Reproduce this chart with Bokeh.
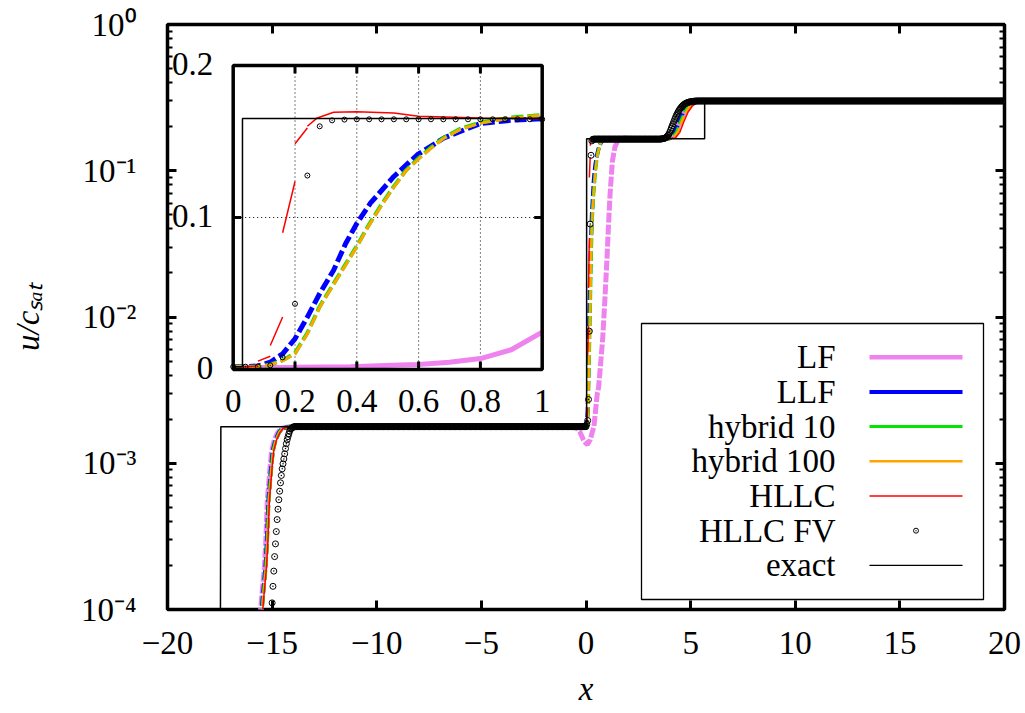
import math
from bokeh.plotting import figure
from bokeh.models import (ColumnDataSource, LabelSet, Range1d, LinearScale,
                          FixedTicker, LinearAxis, LogAxis, CustomJSTickFormatter)
from bokeh.core.properties import value
from bokeh.embed import file_html
from bokeh.resources import INLINE

NAN = float("nan")

# ---------------- ticks / labels ----------------
X_TICKS = [-20, -15, -10, -5, 0, 5, 10, 15, 20]
Y_DECADES = [1e-4, 1e-3, 1e-2, 1e-1, 1.0]
Y_EXPONENTS = ["\u22124", "\u22123", "\u22122", "\u22121", "0"]
Y_MINOR_MANTISSAS = [2, 3, 4, 5, 6, 7, 8, 9]
INSET_X_TICKS = [0, 0.2, 0.4, 0.6, 0.8, 1.0]
INSET_X_LABELS = ["0", "0.2", "0.4", "0.6", "0.8", "1"]
INSET_Y_TICKS = [0, 0.1, 0.2]
INSET_Y_LABELS = ["0", "0.1", "0.2"]
SERIES_NAMES = ["LF", "LLF", "hybrid 10", "hybrid 100", "HLLC", "HLLC FV", "exact"]
X_TITLE = "x"
Y_TITLE = "u/c\u209b\u2090\u209c"   # u/c_sat

# ---------------- series ----------------
lf_x = [-20.0, -15.62, -15.54, -15.47, -15.37, -15.30, -15.23, -15.10, -15.02, -14.90, -14.73, -14.58, -14.18,
        -1.00, -0.50, -0.30, -0.10, 0.00, 0.07, 0.20, 0.38, 0.54, 0.60, 0.70, 0.80, 0.90, 1.00, 1.07, 1.15,
        1.26, 1.38, 1.50, 1.70, 1.89, 2.30, 3.00, 3.80, 4.00, 4.20, 4.40, 4.60, 4.80, 5.00, 5.20, 5.45, 20.0]
lf_y = [1e-6, 6e-5, 1.03e-4, 1.35e-4, 1.94e-4, 2.96e-4, 5.56e-4, 9.35e-4, 1.22e-3, 1.43e-3, 1.62e-3, 1.73e-3, 1.78e-3,
        1.78e-3, 1.76e-3, 1.65e-3, 1.42e-3, 1.37e-3, 1.34e-3, 1.45e-3, 1.79e-3, 3.0e-3, 3.3e-3, 4.8e-3, 7.2e-3,
        0.0130, 0.0246, 0.041, 0.069, 0.116, 0.145, 0.159, 0.166, 0.1675, 0.1660, 0.1650, 0.1660, 0.1700, 0.1800,
        0.2000, 0.2320, 0.2620, 0.2850, 0.2960, 0.3000, 0.3000]

llf_x = [-20.0, -15.60, -15.49, -15.42, -15.32, -15.25, -15.18, -15.05, -14.97, -14.85, -14.68, -14.53, -14.13,
         0.00, 0.04, 0.08, 0.12, 0.16, 0.20, 0.24, 0.28, 0.325, 0.364, 0.40, 0.444, 0.52, 0.596, 0.682, 0.798,
         0.90, 1.00, 1.50, 3.90, 4.05, 4.25, 4.45, 4.65, 4.85, 5.05, 5.25, 5.65, 20.0]
llf_y = [1e-6, 6e-5, 1.03e-4, 1.35e-4, 1.94e-4, 2.96e-4, 5.56e-4, 9.35e-4, 1.22e-3, 1.43e-3, 1.62e-3, 1.73e-3, 1.78e-3,
         1.78e-3, 1.85e-3, 2.3e-3, 4.8e-3, 0.0103, 0.0202, 0.0345, 0.0500, 0.0653, 0.0829, 0.0961, 0.1094, 0.1270,
         0.1413, 0.1523, 0.1617, 0.1640, 0.1650, 0.1652, 0.1650, 0.1680, 0.1830, 0.2170, 0.2520, 0.2770, 0.2905,
         0.2965, 0.3000, 0.3000]

hyb10_x = [-20.0, -15.58, -15.47, -15.40, -15.30, -15.23, -15.16, -15.03, -14.95, -14.83, -14.66, -14.51, -14.11,
           0.00, 0.04, 0.08, 0.12, 0.16, 0.20, 0.24, 0.28, 0.32, 0.36, 0.40, 0.44, 0.48, 0.52, 0.56, 0.60, 0.64,
           0.68, 0.735, 0.80, 0.90, 1.00, 1.30, 1.80, 3.90, 4.13, 4.33, 4.53, 4.73, 4.93, 5.13, 5.33, 5.70, 20.0]
hyb10_y = [1e-6, 6e-5, 1.03e-4, 1.35e-4, 1.94e-4, 2.96e-4, 5.56e-4, 9.35e-4, 1.22e-3, 1.43e-3, 1.62e-3, 1.73e-3, 1.78e-3,
           1.78e-3, 1.80e-3, 2.0e-3, 3.2e-3, 6.0e-3, 0.0108, 0.0240, 0.0415, 0.0548, 0.0680, 0.0812, 0.0955, 0.1085,
           0.1205, 0.1312, 0.1390, 0.1460, 0.1523, 0.1583, 0.1625, 0.1658, 0.1675, 0.1665, 0.1652, 0.1650, 0.1680,
           0.1830, 0.2170, 0.2520, 0.2770, 0.2905, 0.2965, 0.3000, 0.3000]

hyb100_x = [-20.0, -15.57, -15.46, -15.39, -15.29, -15.22, -15.15, -15.02, -14.94, -14.82, -14.65, -14.50, -14.10,
            0.00, 0.04, 0.08, 0.12, 0.16, 0.20, 0.24, 0.28, 0.32, 0.36, 0.40, 0.44, 0.48, 0.52, 0.56, 0.60, 0.64,
            0.68, 0.735, 0.80, 0.90, 1.00, 1.30, 1.80, 3.90, 4.18, 4.38, 4.58, 4.78, 4.98, 5.18, 5.38, 5.72, 20.0]
hyb100_y = [1e-6, 6e-5, 1.03e-4, 1.35e-4, 1.94e-4, 2.96e-4, 5.56e-4, 9.35e-4, 1.22e-3, 1.43e-3, 1.62e-3, 1.73e-3, 1.78e-3,
            1.78e-3, 1.80e-3, 1.98e-3, 3.1e-3, 5.8e-3, 0.0103, 0.0235, 0.0411, 0.0543, 0.0675, 0.0807, 0.0950, 0.1080,
            0.1200, 0.1308, 0.1385, 0.1455, 0.1520, 0.1580, 0.1622, 0.1655, 0.1672, 0.1663, 0.1651, 0.1650, 0.1680,
            0.1830, 0.2170, 0.2520, 0.2770, 0.2905, 0.2965, 0.3000, 0.3000]

# HLLC (DG): pieces separated by NaN where the cell traces jump
hllc_x = [-20.0, -15.55, -15.44, -15.37, -15.27, -15.20, -15.13, -15.00, -14.92, -14.80, -14.63, -14.48, -14.08,
          0.00, 0.04, 0.08, NAN, 0.08, 0.12, NAN, 0.12, 0.16, NAN, 0.16, 0.20, NAN, 0.20, 0.24, NAN,
          0.24, 0.272, 0.325, 0.40, 0.52, 0.60, 0.80, 1.00, 3.90, 4.28, 4.48, 4.68, 4.88, 5.08, 5.28, 5.48, 5.75, 20.0]
hllc_y = [1e-6, 6e-5, 1.03e-4, 1.35e-4, 1.94e-4, 2.96e-4, 5.56e-4, 9.35e-4, 1.22e-3, 1.43e-3, 1.62e-3, 1.73e-3, 1.78e-3,
          1.78e-3, 1.85e-3, 2.4e-3, NAN, 5.5e-3, 8.7e-3, NAN, 0.0158, 0.0345, NAN, 0.0900, 0.1237, NAN, 0.1485, 0.1589, NAN,
          0.1600, 0.1655, 0.1692, 0.1696, 0.1688, 0.1666, 0.1655, 0.1650, 0.1650, 0.1680, 0.1830, 0.2170, 0.2520,
          0.2770, 0.2905, 0.2965, 0.3000, 0.3000]

exact_x = [-20.0, -17.50, -17.45, 0.00, 0.03, 0.03, 1.00, 5.67, 5.67, 20.0]
exact_y = [1e-6, 1e-6, 1.78e-3, 1.78e-3, 1.78e-3, 0.1652, 0.1652, 0.1652, 0.30, 0.30]

# HLLC FV: one value per cell, cell spacing 0.04
FV_DX = 0.04
fv_front_x0 = -15.12
fv_front = [5.0e-5, 6.6e-5, 8.6e-5, 1.11e-4, 1.44e-4, 1.83e-4, 2.30e-4, 2.81e-4, 3.41e-4, 4.12e-4, 4.85e-4,
            5.63e-4, 6.44e-4, 7.35e-4, 8.25e-4, 9.16e-4, 9.91e-4, 1.07e-3, 1.16e-3, 1.26e-3, 1.36e-3, 1.45e-3,
            1.52e-3, 1.59e-3, 1.66e-3, 1.71e-3, 1.73e-3, 1.75e-3, 1.76e-3]
fv_left_plateau = (-13.96, 0.00, 1.78e-3)
fv_jump_x0 = 0.04
fv_jump = [1.85e-3, 1.96e-3, 2.73e-3, 8.0e-3, 0.0432, 0.1276, 0.1600, 0.1639, 0.1644]
fv_mid_plateau = (0.40, 3.52, 0.1646)
fv_step_x0 = 3.56
fv_step = [.1647, .1650, .1653, .1657, .1662, .1668, .1680, .1695, .1715, .1745, .1780, .1830, .1890, .1960,
           .2030, .2100, .2170, .2245, .2320, .2390, .2455, .2520, .2580, .2630, .2680, .2725, .2770, .2805,
           .2835, .2860, .2885, .2905, .2920, .2935, .2947, .2957, .2965, .2972, .2978, .2983, .2988, .2992,
           .2995, .2997, .2998, .2999, .3000]
fv_right_plateau = (5.44, 20.0, 0.300)

for a, b in [(lf_x, lf_y), (llf_x, llf_y), (hyb10_x, hyb10_y), (hyb100_x, hyb100_y),
             (hllc_x, hllc_y), (exact_x, exact_y)]:
    assert len(a) == len(b), (len(a), len(b))


def fv_run(x0, vals):
    return [(round(x0 + i * FV_DX, 2), v) for i, v in enumerate(vals)]


def fv_flat(piece):
    x0, x1, v = piece
    n = int(round((x1 - x0) / FV_DX)) + 1
    return [(round(x0 + i * FV_DX, 2), v) for i in range(n)]


fv_pts = (fv_run(fv_front_x0, fv_front) + fv_flat(fv_left_plateau) + fv_run(fv_jump_x0, fv_jump)
          + fv_flat(fv_mid_plateau) + fv_run(fv_step_x0, fv_step) + fv_flat(fv_right_plateau))
fv_x = [p[0] for p in fv_pts]
fv_y = [p[1] for p in fv_pts]

# ---------------- layout (pixels) ----------------
W, H = 1025, 713
FRAME_L, FRAME_R, FRAME_T, FRAME_B = 167, 1004, 24, 609
X_MIN, X_MAX, Y_MIN, Y_MAX = -20.0, 20.0, 1e-4, 1.0
INSET_L, INSET_R, INSET_T, INSET_B = 232.7, 541.7, 65.0, 369.0
IX_MIN, IX_MAX, IY_MIN, IY_MAX = 0.0, 1.0, 0.0, 0.2
FONT = "Liberation Serif"
FS = 33

COLORS = {"LF": "#EE82EE", "LLF": "#0000FF", "hybrid 10": "#00E600", "hybrid 100": "#FFA500",
          "HLLC": "#FF0000", "HLLC FV": "#000000", "exact": "#000000"}
SUP = {"0": "\u2070", "1": "\u00b9", "2": "\u00b2", "3": "\u00b3", "4": "\u2074", "\u2212": "\u207b"}


def px_to_x(px):
    return X_MIN + (px - FRAME_L) / (FRAME_R - FRAME_L) * (X_MAX - X_MIN)


def py_to_y(py):
    l0, l1 = math.log10(Y_MIN), math.log10(Y_MAX)
    return 10 ** (l0 + (FRAME_B - py) / (FRAME_B - FRAME_T) * (l1 - l0))


p = figure(width=W, height=H, x_range=Range1d(X_MIN, X_MAX), y_range=Range1d(Y_MIN, Y_MAX),
           y_axis_type="log", output_backend="svg", toolbar_location=None,
           min_border_left=FRAME_L, min_border_right=W - FRAME_R,
           min_border_top=FRAME_T, min_border_bottom=H - FRAME_B)
p.xgrid.visible = False
p.ygrid.visible = False
p.background_fill_color = "white"
p.border_fill_color = "white"
p.outline_line_color = "black"
p.outline_line_width = 3.5

y_ticker = FixedTicker(ticks=Y_DECADES, minor_ticks=[m * d for d in Y_DECADES[:-1] for m in Y_MINOR_MANTISSAS])
x_ticker = FixedTicker(ticks=X_TICKS)


def style_axis(ax, labels, minor):
    ax.axis_line_color = None
    ax.major_tick_in = 9
    ax.major_tick_out = 0
    ax.major_tick_line_width = 3
    ax.major_tick_line_color = "black"
    if minor:
        ax.minor_tick_in = 5
        ax.minor_tick_out = 0
        ax.minor_tick_line_width = 2
        ax.minor_tick_line_color = "black"
    else:
        ax.minor_tick_line_color = None
    if labels:
        ax.major_label_text_font = FONT
        ax.major_label_text_font_size = f"{FS}px"
        ax.major_label_text_color = "black"
        ax.axis_label_text_font = FONT
        ax.axis_label_text_font_size = f"{FS}px"
        ax.axis_label_text_font_style = "italic"
        ax.axis_label_text_color = "black"
    else:
        ax.formatter = CustomJSTickFormatter(code="return ''")
        ax.major_label_text_font_size = "0px"
        ax.major_label_standoff = 0


bx = p.xaxis[0]
bx.ticker = x_ticker
style_axis(bx, True, False)
bx.major_label_overrides = {t: str(t).replace("-", "\u2212") for t in X_TICKS}
bx.major_label_standoff = 22
bx.axis_label = X_TITLE
bx.axis_label_standoff = 14

ly = p.yaxis[0]
ly.ticker = y_ticker
style_axis(ly, True, True)
ly.major_label_overrides = {d: "10" + "".join(SUP[c] for c in e) for d, e in zip(Y_DECADES, Y_EXPONENTS)}
ly.major_label_standoff = 31
ly.axis_label = Y_TITLE
ly.axis_label_standoff = 32

top_ax = LinearAxis(ticker=x_ticker)
style_axis(top_ax, False, False)
p.add_layout(top_ax, "above")
right_ax = LogAxis(ticker=y_ticker)
style_axis(right_ax, False, True)
p.add_layout(right_ax, "right")

# ---------------- main curves ----------------
main_styles = [
    (lf_x, lf_y, "LF", 5, "10 2"),
    (llf_x, llf_y, "LLF", 4, "10 3"),
    (hyb10_x, hyb10_y, "hybrid 10", 3.5, "10 3"),
    (hyb100_x, hyb100_y, "hybrid 100", 2.5, "10 3"),
    (hllc_x, hllc_y, "HLLC", 1.5, "solid"),
]
for xs, ys, name, w, dash in main_styles:
    p.line(xs, ys, line_color=COLORS[name], line_width=w, line_dash=dash)
p.scatter(fv_x, fv_y, marker="circle_dot", size=6, line_color="black", fill_color=None, line_width=1)
p.line(exact_x, exact_y, line_color="black", line_width=1.5)

# ---------------- legend ----------------
LEG_L, LEG_R, LEG_T, LEG_B = 641, 983, 323, 599
ROW0, ROW_STEP = 356.7, 34.7
SAMPLE_L, SAMPLE_R, TEXT_R = 869, 962, 835
p.quad(left=[px_to_x(LEG_L)], right=[px_to_x(LEG_R)], top=[py_to_y(LEG_T)], bottom=[py_to_y(LEG_B)],
       fill_color="white", line_color="black", line_width=1.3)
legend_widths = {"LF": 4.5, "LLF": 4, "hybrid 10": 3, "hybrid 100": 2.5, "HLLC": 1.5, "exact": 1.3}
row_y = [py_to_y(ROW0 + i * ROW_STEP) for i in range(len(SERIES_NAMES))]
for name, yy in zip(SERIES_NAMES, row_y):
    if name == "HLLC FV":
        p.scatter([px_to_x((SAMPLE_L + SAMPLE_R) / 2)], [yy], marker="circle_dot", size=5,
                  line_color="black", fill_color=None, line_width=1)
    else:
        p.line([px_to_x(SAMPLE_L), px_to_x(SAMPLE_R)], [yy, yy], line_color=COLORS[name],
               line_width=legend_widths[name])
leg_src = ColumnDataSource(dict(x=[px_to_x(TEXT_R)] * len(SERIES_NAMES), y=row_y, t=SERIES_NAMES))
p.add_layout(LabelSet(x="x", y="y", text="t", source=leg_src, text_align="right", text_baseline="middle",
                      text_font=value(FONT), text_font_size=value(f"{FS}px"), text_color="black"))

# ---------------- inset (extra linear ranges) ----------------
sx = (INSET_R - INSET_L) / (IX_MAX - IX_MIN)
sy = (INSET_B - INSET_T) / (IY_MAX - IY_MIN)
p.extra_x_ranges = {"ix": Range1d(IX_MIN - (INSET_L - FRAME_L) / sx, IX_MAX + (FRAME_R - INSET_R) / sx)}
p.extra_y_ranges = {"iy": Range1d(IY_MIN - (FRAME_B - INSET_B) / sy, IY_MAX + (INSET_T - FRAME_T) / sy)}
p.extra_x_scales = {"ix": LinearScale()}
p.extra_y_scales = {"iy": LinearScale()}
IN = dict(x_range_name="ix", y_range_name="iy")

p.quad(left=[IX_MIN], right=[IX_MAX], bottom=[IY_MIN], top=[IY_MAX], fill_color="white", line_color=None, **IN)
gx = INSET_X_TICKS[1:-1]
gy = INSET_Y_TICKS[1:-1]
p.segment(x0=gx, y0=[IY_MIN] * len(gx), x1=gx, y1=[IY_MAX] * len(gx), line_color="black",
          line_width=1, line_dash="1 3", **IN)
p.segment(x0=[IX_MIN] * len(gy), y0=gy, x1=[IX_MAX] * len(gy), y1=gy, line_color="black",
          line_width=1, line_dash="1 3", **IN)


def inset_part(xs, ys):
    ox, oy = [], []
    for x, y in zip(xs, ys):
        if math.isnan(x) or (IX_MIN - 1e-9 <= x <= IX_MAX + 1e-9):
            ox.append(x)
            oy.append(y)
    return ox, oy


inset_styles = [
    (lf_x, lf_y, "LF", 5, "solid"),
    (llf_x, llf_y, "LLF", 5, "12 4"),
    (hyb10_x, hyb10_y, "hybrid 10", 4, "12 4"),
    (hyb100_x, hyb100_y, "hybrid 100", 3, "12 4"),
    (hllc_x, hllc_y, "HLLC", 1.5, "solid"),
]
for xs, ys, name, w, dash in inset_styles:
    ix, iy = inset_part(xs, ys)
    p.line(ix, iy, line_color=COLORS[name], line_width=w, line_dash=dash, **IN)
ifx, ify = inset_part(fv_x, fv_y)
p.scatter(ifx, ify, marker="circle_dot", size=5, line_color="black", fill_color=None, line_width=1, **IN)
iex, iey = inset_part(exact_x, exact_y)
p.line(iex, iey, line_color="black", line_width=1.5, **IN)

# inset ticks (inward, all four sides)
TL = 8
tx_len, ty_len = TL / sy, TL / sx
p.segment(x0=gx + gx, y0=[IY_MIN] * len(gx) + [IY_MAX] * len(gx), x1=gx + gx,
          y1=[IY_MIN + tx_len] * len(gx) + [IY_MAX - tx_len] * len(gx), line_color="black", line_width=3, **IN)
p.segment(x0=[IX_MIN] * len(gy) + [IX_MAX] * len(gy), y0=gy + gy,
          x1=[IX_MIN + ty_len] * len(gy) + [IX_MAX - ty_len] * len(gy), y1=gy + gy,
          line_color="black", line_width=3, **IN)
p.quad(left=[IX_MIN], right=[IX_MAX], bottom=[IY_MIN], top=[IY_MAX], fill_color=None, line_color="black",
       line_width=3.5, **IN)

ixl = ColumnDataSource(dict(x=INSET_X_TICKS, y=[IY_MIN] * len(INSET_X_TICKS), t=INSET_X_LABELS))
p.add_layout(LabelSet(x="x", y="y", text="t", source=ixl, y_offset=-31, text_align="center",
                      text_baseline="middle", text_font=value(FONT), text_font_size=value(f"{FS}px"),
                      text_color="black", **IN))
iyl = ColumnDataSource(dict(x=[IX_MIN] * len(INSET_Y_TICKS), y=INSET_Y_TICKS, t=INSET_Y_LABELS))
p.add_layout(LabelSet(x="x", y="y", text="t", source=iyl, x_offset=-20, y_offset=2, text_align="right",
                      text_baseline="middle", text_font=value(FONT), text_font_size=value(f"{FS}px"),
                      text_color="black", **IN))

open("out.html", "w").write(file_html(p, INLINE))
